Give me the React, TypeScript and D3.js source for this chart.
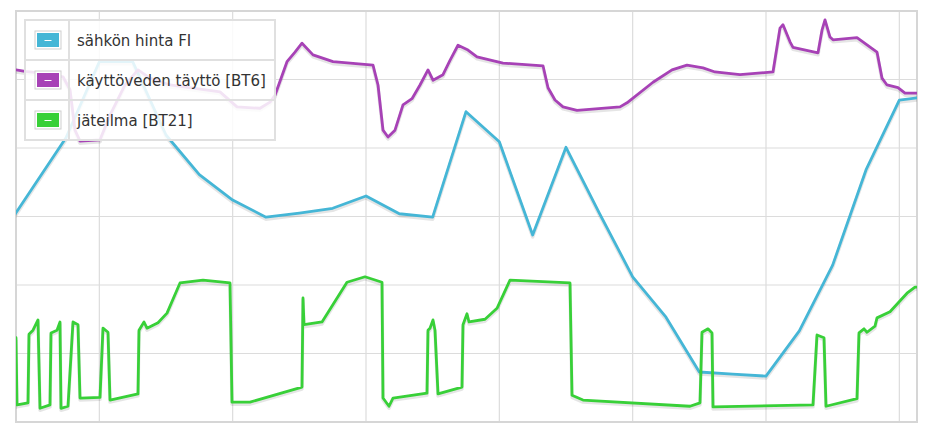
import React from "react";
import * as d3 from "d3";

// ---- data (time in hours from 21:30 start, values in chart units) ----
const seriesNames = ["sähkön hinta FI", "käyttöveden täyttö [BT6]", "jäteilma [BT21]"];
const seriesColors = ["#45b6d6", "#a742b6", "#38d038"];

const priceHours = [-0.5, 0.5, 1.5, 2.5, 3.5, 4.5, 5.5, 6.5, 7.5, 8.5, 9.5, 10.5, 11.5, 12.5, 13.5, 14.5, 15.5, 16.5, 17.5, 18.5, 19.5, 20.5, 21.5, 22.5, 23.5, 24.5, 25.5, 26.5, 27.5];
const priceValues = [26.9, 34.2, 41.5, 52.6, 52.6, 41.9, 36.1, 32.4, 29.9, 30.5, 31.2, 33.0, 30.4, 29.9, 45.3, 40.9, 27.3, 40.1, 30.5, 21.2, 15.3, 7.3, 7.0, 6.7, 13.3, 22.9, 36.8, 47.0, 47.6];

const bt6Hours = [0.0, 0.27, 0.87, 1.41, 1.62, 1.77, 1.92, 2.52, 2.82, 3.27, 3.66, 4.02, 4.62, 6.12, 6.63, 7.32, 7.62, 7.77, 8.13, 8.37, 8.58, 8.91, 9.51, 10.71, 10.86, 11.01, 11.16, 11.37, 11.61, 11.88, 12.12, 12.36, 12.51, 12.81, 13.02, 13.26, 13.56, 13.83, 14.61, 15.81, 15.96, 16.17, 16.41, 16.83, 18.12, 18.33, 19.11, 19.68, 20.13, 20.61, 20.97, 21.72, 22.71, 22.92, 23.01, 23.22, 23.31, 24.06, 24.18, 24.27, 24.42, 24.51, 25.23, 25.83, 25.98, 26.13, 26.46, 26.67, 27.03];
const bt6Values = [51.4, 51.2, 50.9, 50.4, 48.5, 42.6, 41.0, 41.2, 44.8, 49.2, 51.4, 50.2, 49.2, 48.2, 46.0, 45.8, 46.7, 47.7, 52.6, 54.0, 55.3, 53.6, 52.6, 52.1, 49.2, 42.6, 41.6, 42.6, 46.3, 47.2, 49.2, 51.4, 49.9, 50.7, 52.8, 55.0, 54.3, 53.3, 52.4, 52.0, 48.8, 47.0, 46.0, 45.5, 46.0, 46.6, 49.6, 51.4, 52.1, 51.7, 51.1, 50.7, 51.1, 57.5, 58.0, 55.5, 54.7, 53.9, 57.2, 58.7, 56.2, 55.8, 56.1, 54.0, 50.2, 49.2, 48.8, 48.0, 48.0];

const bt21Hours = [0.0, 0.03, 0.36, 0.39, 0.51, 0.66, 0.72, 1.02, 1.05, 1.23, 1.32, 1.35, 1.56, 1.71, 1.86, 1.92, 2.52, 2.61, 2.76, 2.82, 3.66, 3.69, 3.84, 3.93, 4.26, 4.53, 4.92, 5.61, 6.42, 6.48, 7.02, 8.58, 8.61, 8.64, 9.18, 9.93, 10.47, 10.98, 11.01, 11.19, 11.31, 12.33, 12.36, 12.42, 12.51, 12.57, 12.66, 13.38, 13.41, 13.53, 13.59, 14.07, 14.43, 14.82, 16.62, 16.68, 17.01, 20.22, 20.52, 20.58, 20.76, 20.88, 20.91, 23.91, 24.03, 24.24, 24.30, 25.23, 25.29, 25.44, 25.53, 25.77, 25.83, 26.22, 26.73, 26.97, 27.03];
const bt21Values = [12.3, 2.5, 2.8, 12.8, 13.4, 14.9, 2.0, 2.5, 13.0, 13.4, 14.6, 2.0, 2.3, 14.6, 14.2, 3.5, 3.6, 13.7, 13.1, 3.2, 4.1, 13.4, 14.6, 13.7, 14.5, 15.9, 20.3, 20.7, 20.3, 2.9, 2.9, 5.1, 18.1, 14.2, 14.6, 20.4, 21.2, 20.4, 3.5, 2.3, 3.5, 4.2, 13.4, 13.7, 14.9, 13.4, 4.1, 5.1, 14.2, 15.8, 14.6, 15.0, 16.6, 20.7, 20.3, 3.9, 3.2, 2.3, 2.8, 13.1, 13.6, 13.0, 2.2, 2.5, 12.7, 12.3, 2.3, 3.4, 13.0, 13.6, 13.1, 14.0, 15.2, 16.1, 18.8, 19.7, 19.7];

const yGridValues = [10, 20, 30, 40, 50];
const Y_DOMAIN = [0, 60];
const SPAN_HOURS = 27.03;
const START = new Date(2024, 0, 14, 21, 30);

const W = 928;
const H = 428;
const M = { left: 16, top: 11, right: 11, bottom: 6 };

const toDate = (h: number) => new Date(START.getTime() + h * 3600e3);

export default function App() {
  const x = d3.scaleTime().domain([START, toDate(SPAN_HOURS)]).range([M.left, W - M.right]);
  const y = d3.scaleLinear().domain(Y_DOMAIN).range([H - M.bottom, M.top]);
  const xTicks = x.ticks(d3.timeHour.every(4) as any);

  const line = d3
    .line<[number, number]>()
    .x((d) => x(toDate(d[0])))
    .y((d) => y(d[1]));

  const series: [number, number][][] = [
    priceHours.map((h, i) => [h, priceValues[i]]),
    bt6Hours.map((h, i) => [h, bt6Values[i]]),
    bt21Hours.map((h, i) => [h, bt21Values[i]]),
  ];

  const x0 = M.left, x1 = W - M.right, y0 = M.top, y1 = H - M.bottom;

  // legend geometry
  const lg = { x: 25, y: 20, w: 250, rowH: 40, colW: 44 };

  return (
    <svg width={W} height={H} style={{ position: "absolute", left: 0, top: 0 }}>
      <defs>
        <clipPath id="plot">
          <rect x={x0} y={y0} width={x1 - x0} height={y1 - y0} />
        </clipPath>
      </defs>
      <rect x={0} y={0} width={W} height={H} fill="#fff" />
      {/* grid */}
      {xTicks.map((t, i) => (
        <line key={"gx" + i} x1={x(t)} x2={x(t)} y1={y0} y2={y1} stroke="#dcdcdc" strokeWidth={1.2} />
      ))}
      {yGridValues.map((v, i) => (
        <line key={"gy" + i} x1={x0} x2={x1} y1={y(v)} y2={y(v)} stroke="#dcdcdc" strokeWidth={1.2} />
      ))}
      <rect x={x0} y={y0} width={x1 - x0} height={y1 - y0} fill="none" stroke="#d6d6d6" strokeWidth={2} />
      {/* series */}
      <g clipPath="url(#plot)">
        {series.map((s, i) => (
          <g key={"s" + i}>
            <path d={line(s) || ""} fill="none" stroke="rgba(0,0,0,0.1)" strokeWidth={3.5} transform="translate(0,2)" strokeLinejoin="round" />
            <path d={line(s) || ""} fill="none" stroke={seriesColors[i]} strokeWidth={2.8} strokeLinejoin="round" strokeLinecap="round" />
          </g>
        ))}
      </g>
      {/* legend */}
      <g>
        <rect x={lg.x} y={lg.y} width={lg.w} height={lg.rowH * 3} fill="#fff" fillOpacity={0.85} />
        {seriesNames.map((name, i) => {
          const ry = lg.y + i * lg.rowH;
          const cx = lg.x + lg.colW / 2 + 1;
          const cy = ry + lg.rowH / 2;
          return (
            <g key={"lg" + i}>
              <rect x={cx - 13} y={cy - 9} width={26} height={18} fill="#fff" stroke="#cfcfcf" strokeWidth={1} />
              <rect x={cx - 11} y={cy - 7} width={22} height={14} fill={seriesColors[i]} />
              <line x1={cx - 3.5} x2={cx + 3.5} y1={cy + 0.5} y2={cy + 0.5} stroke="#fff" strokeWidth={1} />
              <text x={lg.x + lg.colW + 8} y={cy + 5.5} fontFamily="DejaVu Sans, Verdana, sans-serif" fontSize={15} fill="#333">
                {name}
              </text>
            </g>
          );
        })}
        {[1, 2].map((k) => (
          <line key={"lr" + k} x1={lg.x} x2={lg.x + lg.w} y1={lg.y + k * lg.rowH} y2={lg.y + k * lg.rowH} stroke="#e0e0e0" strokeWidth={2} />
        ))}
        <line x1={lg.x + lg.colW} x2={lg.x + lg.colW} y1={lg.y} y2={lg.y + lg.rowH * 3} stroke="#e0e0e0" strokeWidth={2} />
        <rect x={lg.x} y={lg.y} width={lg.w} height={lg.rowH * 3} fill="none" stroke="#e0e0e0" strokeWidth={2} />
      </g>
    </svg>
  );
}
